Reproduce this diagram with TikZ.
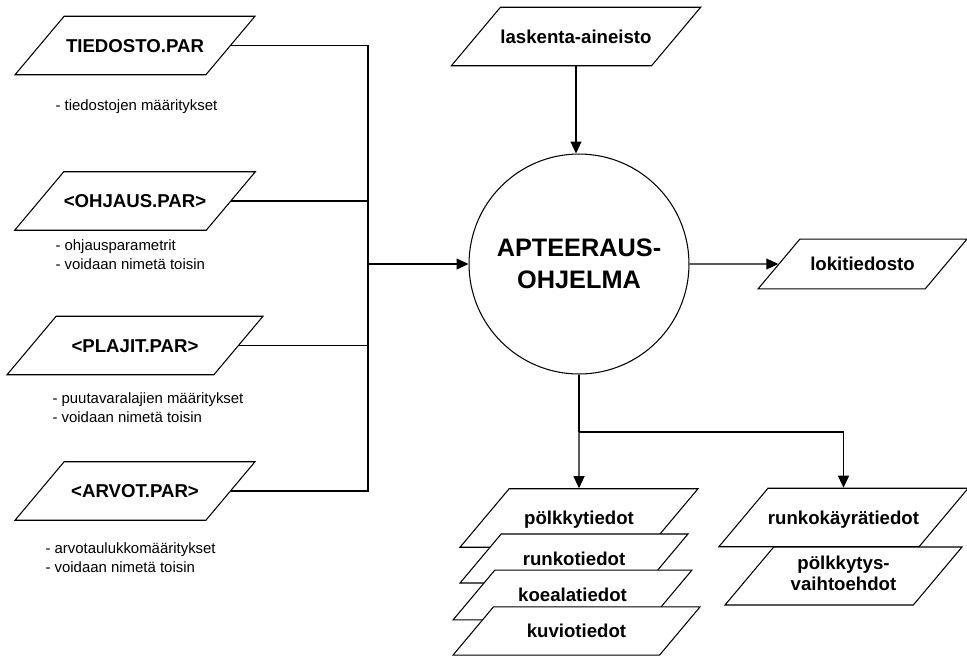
\documentclass[tikz,border=0pt]{standalone}
\usepackage{fontspec}
\setmainfont{Liberation Sans}
\usetikzlibrary{shapes.geometric,arrows.meta}

\tikzset{
  datafile/.style={draw, fill=white, trapezium, trapezium left angle=50,
    trapezium right angle=130, trapezium stretches body, inner sep=0pt,
    minimum width=4.8cm, text height=20.5pt, text depth=12.8pt,
    font=\fontsize{10.6}{12}\selectfont\bfseries},
  program/.style={draw, circle, minimum size=4.4cm, align=center,
    font=\fontsize{14.4}{18}\selectfont\bfseries},
  note/.style={anchor=west, align=left, inner sep=0pt,
    font=\fontsize{8.5}{10.8}\selectfont},
  flow/.style={-{Triangle[length=2.4mm,width=2.2mm]}},
}

\begin{document}
\begin{tikzpicture}[x=0.02cm, y=-0.02cm, line width=0.6pt]
\useasboundingbox (0,0) rectangle (967,657);

\node[datafile] at (135,45.5) (tiedosto) {TIEDOSTO.PAR};
\node[datafile] at (135,201) (ohjaus) {<OHJAUS.PAR>};
\node[datafile, minimum width=5.12cm] at (135,345.5) (plajit) {<PLAJIT.PAR>};
\node[datafile] at (135,491) (arvot) {<ARVOT.PAR>};

\node[note] at (55,107) (tiedostonote) {- tiedostojen määritykset};
\node[note] at (55,255) (ohjausnote) {- ohjausparametrit\\- voidaan nimetä toisin};
\node[note] at (52,407.5) (plajitnote) {- puutavaralajien määritykset\\- voidaan nimetä toisin};
\node[note] at (45,557.5) (arvotnote) {- arvotaulukkomääritykset\\- voidaan nimetä toisin};

\node[datafile, minimum width=4.92cm] at (576,36.5) (laskenta) {laskenta-aineisto};
\node[program] at (579,264) (apteeraus) {APTEERAUS-\\OHJELMA};
\node[datafile, minimum width=4.18cm, text height=18pt, text depth=10.4pt] at (862.5,264) (loki) {lokitiedosto};

\node[datafile, minimum width=4.76cm] at (579,518) (polkky) {pölkkytiedot};
\node[datafile, minimum width=4.56cm, text height=17.7pt, text depth=10.2pt] at (574,558.5) (runko) {runkotiedot};
\node[datafile, minimum width=4.78cm, text height=18pt, text depth=10.4pt] at (572.5,595) (koeala) {koealatiedot};
\node[datafile, minimum width=4.94cm, text height=17.5pt, text depth=9.9pt] at (576.5,631) (kuvio) {kuviotiedot};

\node[datafile, minimum width=4.74cm] at (843.5,517.5) (runkokayra) {runkokäyrätiedot};
\node[datafile, minimum width=4.74cm, text height=19.2pt, text depth=13.8pt] at (843.5,576) (polkkytys)
  {\begin{tabular}{@{}c@{}}pölkkytys-\\vaihtoehdot\end{tabular}};

\coordinate (bus) at (368,264);
\coordinate (split) at (579,432);

\draw (tiedosto.east) -| (bus);
\draw (arvot.east) -| (bus);
\draw (ohjaus.east) -- (ohjaus.east -| bus);
\draw (plajit.east) -- (plajit.east -| bus);
\draw[flow] (bus) -- (apteeraus.west);

\draw[flow] (laskenta.south) -- (laskenta.south |- apteeraus.north);
\draw[flow] (apteeraus.east) -- (loki.west);

\draw (apteeraus.south) -- (split);
\draw[flow] (split) -- (polkky.north);
\draw[flow] (split) -| (runkokayra.north);
\end{tikzpicture}
\end{document}
